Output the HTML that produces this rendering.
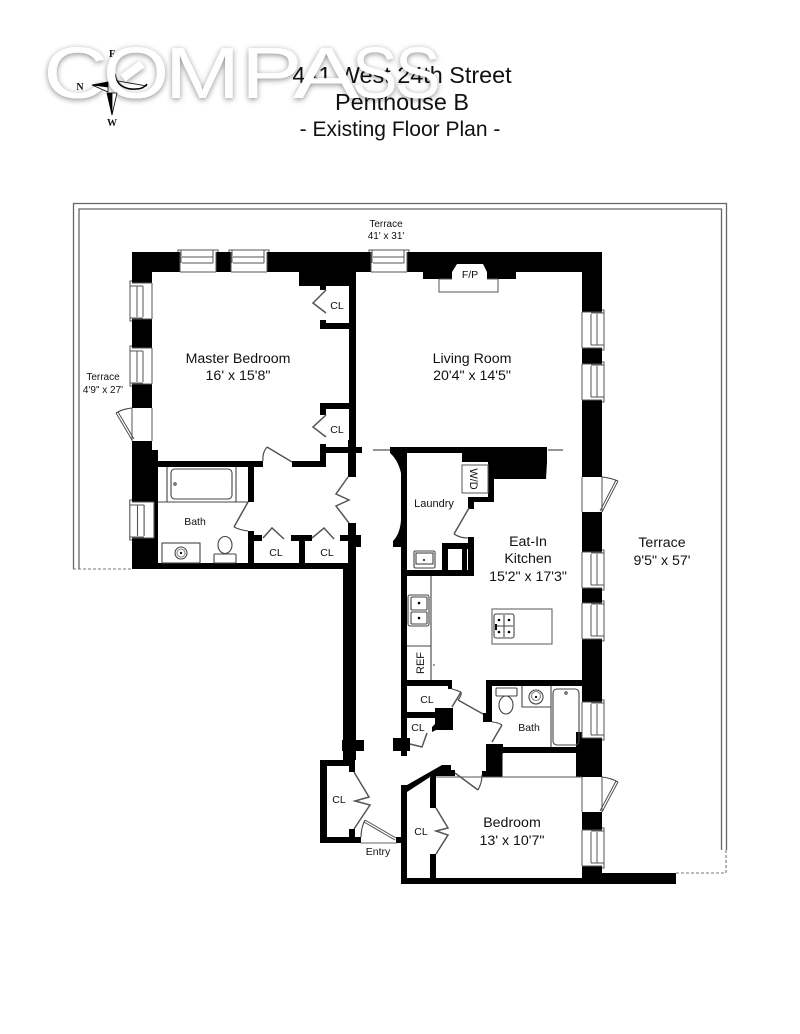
<!DOCTYPE html>
<html><head><meta charset="utf-8"><style>
html,body{margin:0;padding:0;background:#fff}
svg{display:block}
text{font-family:"Liberation Sans",sans-serif;fill:#111}
.m{font-size:14.2px;text-anchor:middle}
.s{font-size:10.5px;text-anchor:middle}
.t{font-size:23.4px;text-anchor:middle}
.l{font-size:72px;fill:#fff}
.g{fill:none;stroke:#555;stroke-width:1.5}
.d{fill:none;stroke:#444;stroke-width:1.1}
.f{fill:#fff;stroke:#555;stroke-width:1}
</style></head><body>
<svg width="800" height="1034" viewBox="0 0 800 1034" xmlns="http://www.w3.org/2000/svg">
<defs>
<filter id="sh" x="-10%" y="-30%" width="120%" height="170%"><feDropShadow dx="0" dy="1.5" stdDeviation="2.8" flood-color="#000" flood-opacity=".45"/></filter>
<g id="win">
<rect x="0" y="0" width="36" height="20" fill="#fff"/>
<path d="M-2 0V-2H38V0M1-2V11M33-2V11M2 5H33M2 11H33M0 20H36M0 0V20M36 0V20" fill="none" stroke="#555" stroke-width="1"/>
</g>
</defs>
<rect width="800" height="1034" fill="#fff"/>

<!-- Terrace outline -->
<path d="M73.500 569V203.500H726.500V850M79 569V209H721.500V850" fill="none" stroke="#666" stroke-width="1.300"/>
<path d="M73 569H132M726 850V873H676" fill="none" stroke="#777" stroke-width="1.100" stroke-dasharray="3 2"/>

<!-- Title -->
<text class="t" x="402" y="83">441 West 24th Street</text>
<text class="t" x="402" y="110">Penthouse B</text>
<text class="t" x="400" y="136" style="font-size:21px">- Existing Floor Plan -</text>

<!-- Compass rose arc -->
<path d="M115 74C116 84 124 90 136 89C141 89 145 87 147 84" fill="none" stroke="#000" stroke-width="1.500"/>
<path d="M118 81L147 86" stroke="#000" stroke-width=".8"/>

<!-- Walls -->
<g fill="#000">
<rect x="132" y="252" width="470" height="20"/>
<rect x="132" y="252" width="20" height="200"/>
<rect x="132" y="450" width="26" height="119"/>
<rect x="132" y="563" width="224" height="6"/>
<rect x="582" y="252" width="20" height="621"/>
<rect x="582" y="865" width="20" height="19"/>
<rect x="401" y="878" width="275" height="6"/>
<rect x="602" y="873" width="74" height="11"/>
<!-- fireplace -->
<rect x="423" y="272" width="29" height="7"/>
<rect x="487" y="272" width="29" height="7"/>
<!-- master / living -->
<rect x="299" y="272" width="57" height="14"/>
<rect x="349" y="272" width="7" height="175"/>
<rect x="320" y="286" width="6" height="4"/>
<rect x="320" y="320" width="6" height="9"/>
<rect x="320" y="323" width="30" height="6"/>
<rect x="320" y="403" width="30" height="6"/>
<rect x="320" y="403" width="6" height="12"/>
<rect x="320" y="444" width="6" height="23"/>
<rect x="320" y="447" width="42" height="6"/>
<rect x="348" y="440" width="8" height="37"/>
<rect x="158" y="461" width="105" height="6"/>
<rect x="292" y="461" width="34" height="6"/>
<rect x="248" y="467" width="6" height="35"/>
<rect x="248" y="531" width="6" height="32"/>
<rect x="248" y="535" width="14" height="6"/>
<rect x="291" y="535" width="21" height="6"/>
<rect x="299" y="535" width="6" height="28"/>
<rect x="340" y="535" width="21" height="6"/>
<rect x="348" y="523" width="8" height="40"/>
<rect x="348" y="535" width="13" height="12"/>
<!-- corridor left -->
<rect x="343" y="563" width="13" height="197"/>
<rect x="342" y="740" width="22" height="11"/>
<rect x="320" y="760" width="35" height="6"/>
<rect x="349" y="760" width="6" height="12"/>
<rect x="320" y="760" width="7" height="83"/>
<rect x="320" y="837" width="41" height="6"/>
<rect x="349" y="829" width="6" height="10"/>
<rect x="396" y="837" width="5" height="6"/>
<!-- curved wall & top of kitchen -->
<path d="M390 447H547V453H407V547H393V541Q400 534 401 520V473Q398 460 390 453Z"/>
<rect x="401" y="547" width="6" height="193"/>
<path d="M462 453H547V462L546 479H494V502H468V509H474V508H468V497H488V462H462Z"/>
<rect x="468" y="497" width="6" height="12"/>
<rect x="401" y="570" width="73" height="6"/>
<rect x="442" y="543" width="32" height="6"/>
<rect x="442" y="543" width="6" height="33"/>
<rect x="462" y="543" width="5" height="33"/>
<rect x="468" y="537" width="6" height="39" />
<!-- kitchen bath, closets -->
<rect x="401" y="680" width="51" height="6"/>
<rect x="448" y="680" width="4" height="9"/>
<rect x="401" y="712" width="52" height="6"/>
<path d="M435 708H453V730H436L432 732V727L435 724Z"/>
<rect x="393" y="738" width="17" height="13"/>
<rect x="401" y="736" width="6" height="20"/>
<rect x="486" y="680" width="96" height="6"/>
<rect x="486" y="680" width="6" height="42"/>
<rect x="483" y="713" width="6" height="9"/>
<rect x="486" y="744" width="17" height="33"/>
<rect x="486" y="747" width="96" height="6"/>
<rect x="482" y="771" width="6" height="6"/>
<rect x="576" y="732" width="26" height="45"/>
<!-- bedroom -->
<rect x="401" y="785" width="6" height="99"/>
<path d="M401 785H407L442 765H451V770H455V776H436V808H430V777L407 792H401Z"/>
<rect x="430" y="854" width="6" height="24"/>
</g>

<!-- white openings -->
<path d="M452 281V272L457 264H483L487 272V281Z" fill="#fff"/>
<rect x="502.500" y="753.500" width="73" height="23.500" fill="#fff"/>
<rect x="132" y="408" width="20" height="33" fill="#fff"/>
<rect x="582" y="477" width="20" height="35" fill="#fff"/>
<rect x="582" y="777" width="20" height="35" fill="#fff"/>
<path d="M132 408V441M152 408V441M582 477V512M602 477V512M582 777V812M602 777V812M436 777H582M430 777V776" stroke="#555" stroke-width="1" fill="none"/>
<path d="M439 279V292H498V279H487M452 279H439M498 279H487" class="f" fill="none"/>

<!-- windows -->
<use href="#win" transform="translate(180,252)"/>
<use href="#win" transform="translate(231,252)"/>
<use href="#win" transform="translate(371,252)"/>
<use href="#win" transform="translate(132,319) rotate(-90)"/>
<use href="#win" transform="translate(132,384) rotate(-90)"/>
<use href="#win" transform="translate(132,538) rotate(-90) scale(1,1.100)"/>
<use href="#win" transform="translate(602,312) rotate(90)"/>
<use href="#win" transform="translate(602,364) rotate(90)"/>
<use href="#win" transform="translate(602,552) rotate(90)"/>
<use href="#win" transform="translate(602,603) rotate(90)"/>
<use href="#win" transform="translate(602,702) rotate(90)"/>
<use href="#win" transform="translate(602,830) rotate(90)"/>

<!-- Doors -->
<g class="g">
<path d="M326 290L313 303L326 313"/>
<path d="M326 415L313 427L326 437"/>
<path d="M267 447L292 462"/>
<path d="M248 502L234 527"/>
<path d="M263 538L272 528L284 539"/>
<path d="M312 538L324 528L334 539"/>
<path d="M348 477L336 494L349 500L336 506L349 523"/>
<path d="M469 508L454 534"/>
<path d="M461 692L452 707"/>
<path d="M458 700L483 714"/>
<path d="M492 742L502 725"/>
<path d="M410 744L422 747L427 733"/>
<path d="M455 773L478 790"/>
<path d="M354 772L369 797L355 801L370 805L354 829"/>
<path d="M436 808L448 828L436 831L448 835L436 854"/>
<path d="M373 450H390M548 450H563" stroke-width="1.300"/>
</g>
<g class="d">
<path d="M267 447Q262 453 263 461"/>
<path d="M234 527Q240 530 248 531"/>
<path d="M454 534Q460 538 468 538"/>
<path d="M461 692Q456 690 452 689"/>
<path d="M458 700Q462 695 461 692"/>
<path d="M502 725Q497 722 492 722"/>
<path d="M478 790Q482 783 482 775"/>
<path d="M365 820Q361 828 361 837"/>
<path d="M132 408Q123 409 116 413"/>
<path d="M602 477Q611 478 618 481"/>
<path d="M602 777Q611 778 618 782"/>
<path d="M361 843H397" stroke="#666"/>
</g>
<!-- double-line doors -->
<g stroke="#444" fill="none" stroke-width=".9">
<path d="M116 413L132 440M118 412L134 439"/>
<path d="M618 481L602 512M616 480L600 511"/>
<path d="M618 782L602 812M616 781L600 811"/>
<path d="M365 820L396 838M364 822L395 840"/>
</g>

<!-- Master bath fixtures -->
<g class="d">
<path d="M158 502H248M167 467V502M236 467V502"/>
<rect x="171" y="469" width="61" height="30" rx="4"/>
<circle cx="175" cy="484" r="1.200"/>
<rect x="162" y="543" width="38" height="20"/>
<circle cx="181" cy="553" r="6"/>
<circle cx="181" cy="553" r="4" stroke="#888"/>
<ellipse cx="225" cy="545" rx="7" ry="8.500"/>
<rect x="214" y="554" width="22" height="9" rx="1"/>
</g>
<circle cx="181" cy="553" r="1.100" fill="#000"/>

<!-- Kitchen fixtures -->
<g class="d">
<rect x="462" y="465" width="26" height="28" stroke="#666"/>
<path d="M431 576V680M407 646H431M433 665H435"/>
<rect x="408" y="595" width="21" height="31" rx="2"/>
<rect x="411" y="597" width="16" height="13" rx="1"/>
<rect x="411" y="612" width="16" height="12" rx="1"/>
<rect x="414" y="551" width="21" height="17" rx="1.500"/>
<rect x="416" y="553" width="17" height="11"/>
<rect x="492" y="609" width="60" height="35" stroke="#666"/>
<rect x="494" y="614" width="20" height="24" rx="2"/>
<path d="M504 615V637M495 626H513"/>
</g>
<g fill="#000">
<circle cx="419" cy="603" r="1.300"/><circle cx="419" cy="618" r="1.300"/><circle cx="424" cy="560" r="1"/>
<circle cx="499" cy="620" r="1.300"/><circle cx="509" cy="620" r="1.300"/><circle cx="499" cy="632" r="1.300"/><circle cx="509" cy="632" r="1.300"/>
<rect x="495" y="624" width="2" height="6"/>
</g>

<!-- Kitchen bath fixtures -->
<g class="d">
<rect x="496" y="688" width="21" height="8" rx="1"/>
<ellipse cx="506" cy="705" rx="7" ry="9"/>
<path d="M551 686V747M522 686V707H551"/>
<circle cx="536" cy="697" r="7"/>
<circle cx="536" cy="696" r="4.500" stroke="#888"/>
<rect x="553" y="689" width="26" height="56" rx="4"/>
<circle cx="566" cy="693" r="1.200"/>
</g>
<circle cx="536" cy="697" r="1.100" fill="#000"/>

<!-- Labels -->
<text class="m" x="238" y="363">Master Bedroom</text>
<text class="m" x="238" y="380">16' x 15'8"</text>
<text class="m" x="472" y="363">Living Room</text>
<text class="m" x="472" y="380">20'4" x 14'5"</text>
<text class="m" x="528" y="546">Eat-In</text>
<text class="m" x="528" y="563">Kitchen</text>
<text class="m" x="528" y="581">15'2" x 17'3"</text>
<text class="m" x="512" y="827">Bedroom</text>
<text class="m" x="512" y="845">13' x 10'7"</text>
<text class="m" x="662" y="547">Terrace</text>
<text class="m" x="662" y="565">9'5" x 57'</text>
<text class="s" x="386" y="227" style="font-size:10px">Terrace</text>
<text class="s" x="386" y="239" style="font-size:10px">41' x 31'</text>
<text class="s" x="103" y="380" style="font-size:10px">Terrace</text>
<text class="s" x="103" y="393" style="font-size:10px">4'9" x 27'</text>
<text class="s" x="195" y="525">Bath</text>
<text class="s" x="529" y="731">Bath</text>
<text class="s" x="337" y="309">CL</text>
<text class="s" x="337" y="433">CL</text>
<text class="s" x="276" y="556">CL</text>
<text class="s" x="327" y="556">CL</text>
<text class="s" x="427" y="703">CL</text>
<text class="s" x="418" y="731">CL</text>
<text class="s" x="339" y="803">CL</text>
<text class="s" x="421" y="835">CL</text>
<text class="s" x="378" y="855">Entry</text>
<text class="s" x="434" y="507" style="font-size:11px">Laundry</text>
<text class="s" x="470" y="278">F/P</text>
<text class="s" transform="translate(470,479) rotate(90)" style="font-size:11px">W/D</text>
<text class="s" transform="translate(424,663) rotate(-90)" style="font-size:11px">REF</text>

<!-- COMPASS logo watermark -->
<g filter="url(#sh)">
<title>COMPASS</title>
<text class="l" transform="translate(43.5,98) scale(1.24,1)">C</text>
<text class="l" transform="translate(103,98) scale(1.18,1)">O</text>
<text class="l" transform="translate(165,98) scale(1.25,1)">M</text>
<text class="l" transform="translate(241,98) scale(1.28,1)">P</text>
<text class="l" transform="translate(293,98) scale(1.38,1)">A</text>
<text class="l" transform="translate(352,98) scale(.95,1)">S</text>
<text class="l" transform="translate(395,98) scale(.95,1)">S</text>
<path d="M123 78L142 64" stroke="#fff" stroke-width="8" fill="none"/>
</g>

<!-- Compass rose arrows over logo -->
<g stroke="#000" stroke-width=".8">
<path d="M92 85L108 82V87Z" fill="#000"/>
<path d="M92 85L108 87V92Z" fill="#fff"/>
<path d="M112 115L107 93H112Z" fill="#000"/>
<path d="M112 115L117 93H112Z" fill="#fff"/>
</g>
<text x="112" y="57" style="font-family:'Liberation Serif',serif;font-size:10px;font-weight:bold;text-anchor:middle">F</text>
<text x="80" y="90" style="font-family:'Liberation Serif',serif;font-size:10px;font-weight:bold;text-anchor:middle">N</text>
<text x="112" y="126" style="font-family:'Liberation Serif',serif;font-size:10px;font-weight:bold;text-anchor:middle">W</text>
</svg>
</body></html>
